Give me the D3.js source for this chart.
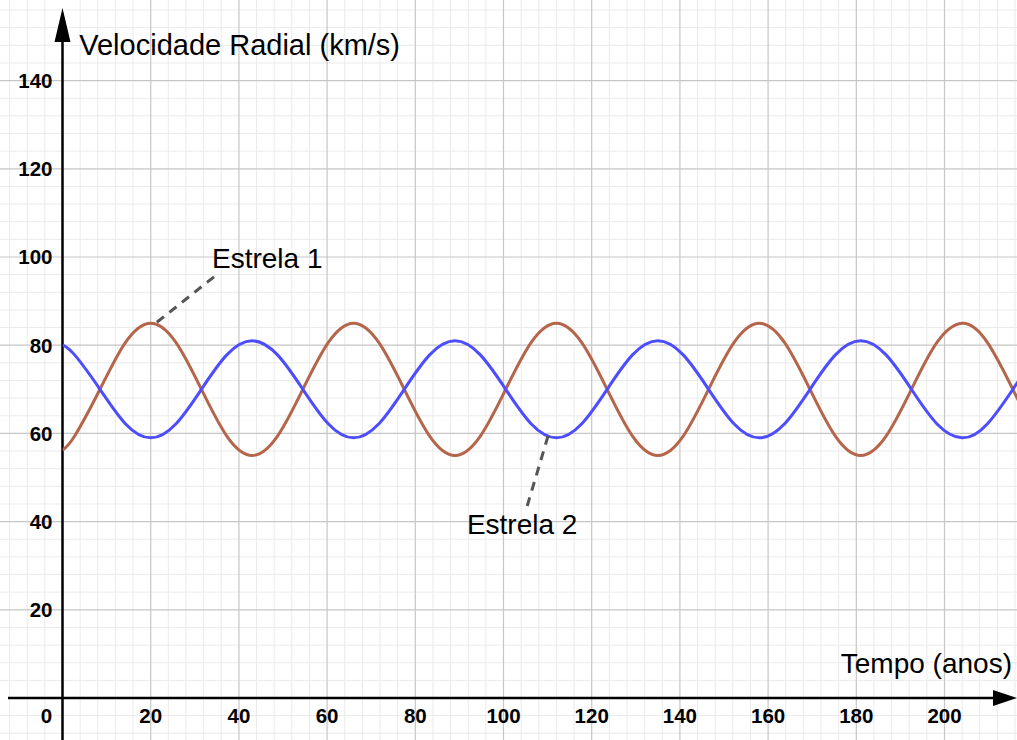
<!DOCTYPE html>
<html><head><meta charset="utf-8">
<script src="https://cdn.jsdelivr.net/npm/d3@7/dist/d3.min.js"></script>
<style>html,body{margin:0;padding:0;background:#fff;}svg{display:block;font-family:"Liberation Sans",Arial,sans-serif;}</style>
</head><body><svg id="c" width="1017" height="740"></svg>
<script>
// Data
const tempo = [0, 2.75, 8.5, 14.25, 20, 25.75, 31.5, 37.25, 43, 48.75, 54.5, 60.25, 66, 71.75, 77.5, 83.25, 89, 94.75, 100.5, 106.25, 112, 117.75, 123.5, 129.25, 135, 140.75, 146.5, 152.25, 158, 163.75, 169.5, 175.25, 181, 186.75, 192.5, 198.25, 204, 209.75, 215.5, 217];
const estrela1 = [56.2, 59.4, 70, 80.6, 85, 80.6, 70, 59.4, 55, 59.4, 70, 80.6, 85, 80.6, 70, 59.4, 55, 59.4, 70, 80.6, 85, 80.6, 70, 59.4, 55, 59.4, 70, 80.6, 85, 80.6, 70, 59.4, 55, 59.4, 70, 80.6, 85, 80.6, 70, 67];
const estrela2 = [80.1, 77.8, 70, 62.2, 59, 62.2, 70, 77.8, 81, 77.8, 70, 62.2, 59, 62.2, 70, 77.8, 81, 77.8, 70, 62.2, 59, 62.2, 70, 77.8, 81, 77.8, 70, 62.2, 59, 62.2, 70, 77.8, 81, 77.8, 70, 62.2, 59, 62.2, 70, 72.2];
const xTicks = [0, 20, 40, 60, 80, 100, 120, 140, 160, 180, 200];
const yTicks = [20, 40, 60, 80, 100, 120, 140];
const labels = ["Estrela 1", "Estrela 2"];
const yTitle = "Velocidade Radial (km/s)";
const xTitle = "Tempo (anos)";

const W = 1017, H = 740;
const ox = 62.5, oy = 698, k = 4.41;
const x = d3.scaleLinear().domain([0, 100]).range([ox, ox + 100 * k]);
const y = d3.scaleLinear().domain([0, 100]).range([oy, oy - 100 * k]);
const svg = d3.select("#c");
svg.append("rect").attr("width", W).attr("height", H).attr("fill", "#fff");

const xMin = x.invert(0), xMax = x.invert(W), yMin = y.invert(H), yMax = y.invert(0);
const minorX = d3.range(Math.ceil(xMin / 4) * 4, xMax, 4).filter(v => v % 20 !== 0);
const minorY = d3.range(Math.ceil(yMin / 4) * 4, yMax, 4).filter(v => v % 20 !== 0);
const majorX = d3.range(Math.ceil(xMin / 20) * 20, xMax, 20).filter(v => v !== 0);
const majorY = d3.range(Math.ceil(yMin / 20) * 20, yMax, 20).filter(v => v !== 0);

const g = svg.append("g");
g.selectAll(".mx").data(minorX).join("line").attr("x1", d => x(d)).attr("x2", d => x(d)).attr("y1", 0).attr("y2", H).attr("stroke", "#ebebeb").attr("stroke-width", 1);
g.selectAll(".my").data(minorY).join("line").attr("y1", d => y(d)).attr("y2", d => y(d)).attr("x1", 0).attr("x2", W).attr("stroke", "#ebebeb").attr("stroke-width", 1);
g.selectAll(".Mx").data(majorX).join("line").attr("x1", d => x(d)).attr("x2", d => x(d)).attr("y1", 0).attr("y2", H).attr("stroke", "#c6c6c6").attr("stroke-width", 1.2);
g.selectAll(".My").data(majorY).join("line").attr("y1", d => y(d)).attr("y2", d => y(d)).attr("x1", 0).attr("x2", W).attr("stroke", "#c6c6c6").attr("stroke-width", 1.2);

// axes
svg.append("line").attr("x1", 8).attr("x2", W - 20).attr("y1", y(0)).attr("y2", y(0)).attr("stroke", "#000").attr("stroke-width", 2.5);
svg.append("line").attr("x1", x(0)).attr("x2", x(0)).attr("y1", H).attr("y2", 36).attr("stroke", "#000").attr("stroke-width", 2.5);
svg.append("path").attr("d", `M${x(0)},8 L${x(0) - 8},42 L${x(0) + 8},42 Z`).attr("fill", "#000");
svg.append("path").attr("d", `M${W},${y(0)} L${W - 24},${y(0) - 8} L${W - 24},${y(0) + 8} Z`).attr("fill", "#000");

// tick labels
svg.selectAll(".xt").data(xTicks).join("text")
  .attr("x", d => d === 0 ? x(0) - 16 : x(d)).attr("y", y(0) + 25)
  .attr("text-anchor", "middle").attr("font-size", 20.5).attr("font-weight", "bold").text(d => d);
svg.selectAll(".yt").data(yTicks).join("text")
  .attr("x", x(0) - 10).attr("y", d => y(d) + 7.3)
  .attr("text-anchor", "end").attr("font-size", 20.5).attr("font-weight", "bold").text(d => d);

// titles
svg.append("text").attr("x", x(3.8)).attr("y", y(145.8)).attr("font-size", 29).text(yTitle);
svg.append("text").attr("x", x(215.3)).attr("y", y(5.7)).attr("text-anchor", "end").attr("font-size", 28).text(xTitle);

// curves
const line = d3.line().x(d => x(d[0])).y(d => y(d[1])).curve(d3.curveNatural);
svg.append("clipPath").attr("id", "cp").append("rect").attr("x", x(0)).attr("y", 0).attr("width", W - x(0)).attr("height", H);
svg.append("path").attr("clip-path", "url(#cp)").attr("d", line(tempo.map((t, i) => [t, estrela1[i]])))
  .attr("fill", "none").attr("stroke", "#b5654a").attr("stroke-width", 3);
svg.append("path").attr("clip-path", "url(#cp)").attr("d", line(tempo.map((t, i) => [t, estrela2[i]])))
  .attr("fill", "none").attr("stroke", "#4d4dff").attr("stroke-width", 3);

// annotations
const ann = [
  {p1: [21.4, 85.2], p2: [34.6, 95.7], tx: 33.9, ty: 97.5},
  {p1: [110.1, 59.4], p2: [105.3, 43.3], tx: 91.7, ty: 37.2}
];
ann.forEach((a, i) => {
  svg.append("line").attr("x1", x(a.p1[0])).attr("y1", y(a.p1[1])).attr("x2", x(a.p2[0])).attr("y2", y(a.p2[1]))
    .attr("stroke", "#555").attr("stroke-width", 3).attr("stroke-dasharray", "9,7");
  svg.append("text").attr("x", x(a.tx)).attr("y", y(a.ty)).attr("font-size", 28).text(labels[i]);
});
</script></body></html>
